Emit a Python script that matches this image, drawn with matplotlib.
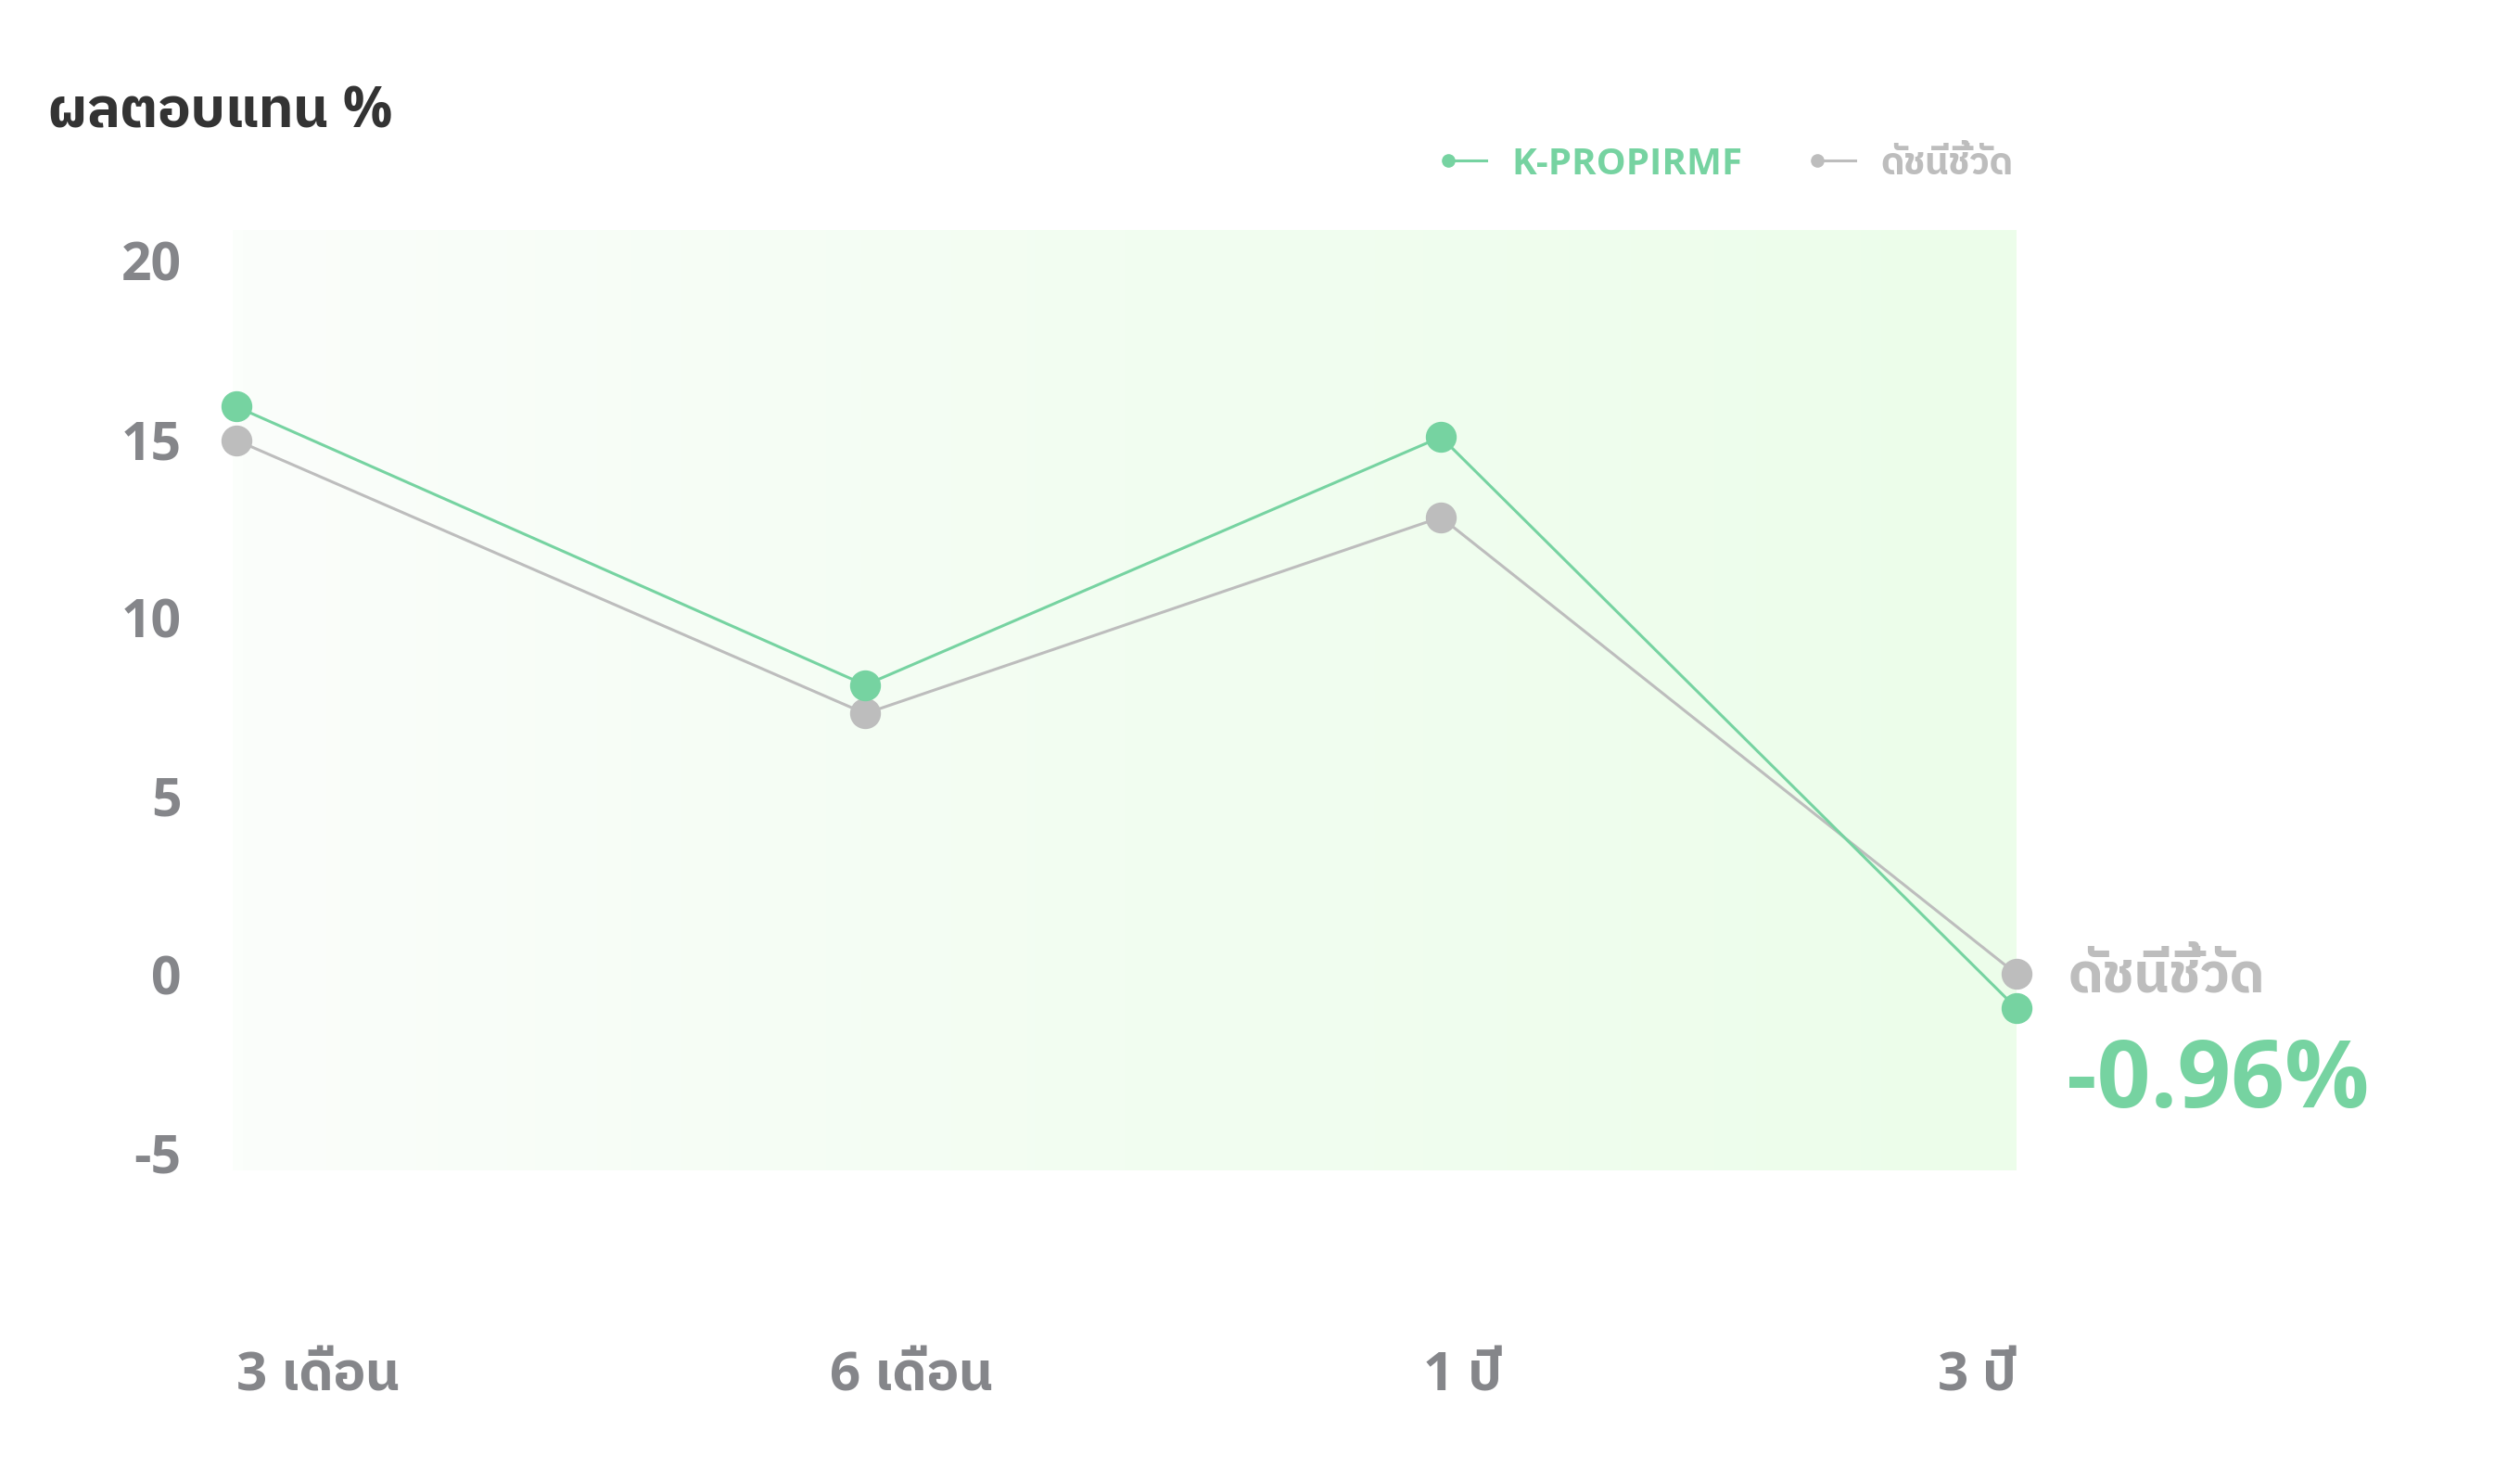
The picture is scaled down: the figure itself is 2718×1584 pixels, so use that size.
import matplotlib
matplotlib.use("Agg")
import numpy as np
import matplotlib.pyplot as plt
from matplotlib.lines import Line2D
from matplotlib.legend_handler import HandlerLine2D
from matplotlib.colors import LinearSegmentedColormap
from matplotlib import font_manager

# ---- data ----
categories = ["3 เดือน", "6 เดือน", "1 ปี", "3 ปี"]
fund_name = "K-PROPIRMF"
bench_name = "ดัชนีชี้วัด"
fund_values = [15.9, 8.1, 15.05, -0.96]
bench_values = [14.96, 7.3, 12.8, 0.0]
y_ticks = [-5, 0, 5, 10, 15, 20]
title = "ผลตอบแทน %"
last_label = "-0.96%"

# ---- style ----
GREEN = "#76d3a1"
GRAY = "#bdbdbd"
TICK = "#85868a"
DARK = "#333333"


def has_bold(fam):
    try:
        p = font_manager.findfont(
            font_manager.FontProperties(family=fam, weight="bold"),
            fallback_to_default=False)
        return "bold" in p.lower()
    except Exception:
        return False


latin = next((f for f in ["Noto Sans", "Open Sans", "Lato", "Roboto"]
              if has_bold(f)), "DejaVu Sans")
FONT = [latin, "IBM Plex Sans Thai", "DejaVu Sans"]
plt.rcParams["font.family"] = FONT

W, H = 2718, 1584
fig = plt.figure(figsize=(W / 100, H / 100), dpi=100)
L, R, T, B = 251, 2175, 248, 1262
ax = fig.add_axes([L / W, 1 - B / H, (R - L) / W, (B - T) / H])

xpos = [0, 1.06, 2.03, 3]
ax.set_xlim(-0.006, 3)
ax.set_ylim(-5.5, 20.85)

# gradient background
cmap = LinearSegmentedColormap.from_list("bg", ["#fbfefb", "#f2fdf1", "#ecfdea"])
grad = np.linspace(0, 1, 256).reshape(1, -1)
ax.imshow(grad, extent=[-0.006, 3, -5.5, 20.85], aspect="auto", cmap=cmap,
          zorder=0, interpolation="bicubic")

ax.plot(xpos, bench_values, color=GRAY, lw=2.2, marker="o", ms=23,
        clip_on=False, zorder=3)
ax.plot(xpos, fund_values, color=GREEN, lw=2.2, marker="o", ms=23,
        clip_on=False, zorder=4)

for s in ax.spines.values():
    s.set_visible(False)

ax.set_yticks(y_ticks)
ax.set_yticklabels([str(v) for v in y_ticks])
ax.tick_params(axis="y", length=0, pad=40, labelsize=41, labelcolor=TICK)
for lab in ax.get_yticklabels():
    lab.set_fontweight("bold")

ax.set_xticks([0, 1, 2, 3])
ax.set_xticklabels(categories)
ax.tick_params(axis="x", length=0, pad=160, labelsize=42, labelcolor=TICK)
for i, lab in enumerate(ax.get_xticklabels()):
    lab.set_fontweight("bold")
    lab.set_va("center")
    lab.set_ha("right" if i == len(categories) - 1 else "left")

# title
fig.text(52 / W, 1 - 122 / H, title, fontsize=43, fontweight="bold",
         color=DARK, ha="left", va="center")

# end annotations
ax.annotate(bench_name, xy=(xpos[-1], bench_values[-1]), xytext=(56, -4),
            textcoords="offset pixels", fontsize=43, fontweight="bold",
            color=GRAY, ha="left", va="center", annotation_clip=False)
ax.annotate(last_label, xy=(xpos[-1], bench_values[-1]), xytext=(54, -117),
            textcoords="offset pixels", fontsize=73, fontweight="bold",
            color=GREEN, ha="left", va="center", annotation_clip=False)


class LeftDot(HandlerLine2D):
    def create_artists(self, legend, orig_handle, xdescent, ydescent,
                       width, height, fontsize, trans):
        y = height / 2 - ydescent
        c = orig_handle.get_color()
        line = Line2D([-xdescent, -xdescent + width], [y, y], color=c, lw=2.2)
        dot = Line2D([-xdescent], [y], marker="o", ms=9.5, color=c, ls="none")
        line.set_transform(trans)
        dot.set_transform(trans)
        return [line, dot]


handles = [Line2D([], [], color=GREEN), Line2D([], [], color=GRAY)]
leg = fig.legend(handles, [fund_name, bench_name], ncol=2, frameon=False,
                 loc="center right", bbox_to_anchor=(2172 / W, 1 - 177 / H),
                 prop={"size": 29, "weight": "bold", "family": FONT},
                 handlelength=1.0, handletextpad=0.7, columnspacing=2.0,
                 borderpad=0, borderaxespad=0,
                 handler_map={Line2D: LeftDot()})
for t, c in zip(leg.get_texts(), [GREEN, GRAY]):
    t.set_color(c)

fig.savefig("out.png", dpi=100)
